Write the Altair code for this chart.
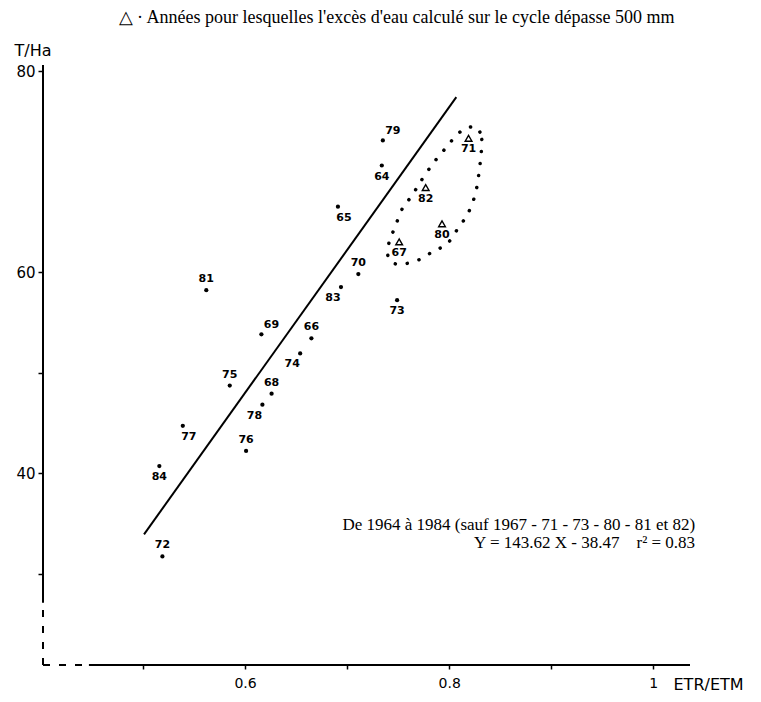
import altair as alt
import pandas as pd

# ---- axis frame (data units) ----
X_MIN, X_MAX = 0.402, 1.036
Y_MIN, Y_MAX = 20.9, 80.6
X_BREAK = 0.447   # x-axis is dashed left of this value
Y_BREAK = 27.1    # y-axis is dashed below this value

# ---- ordinary years (dots) ----
dot_years = ["64", "65", "66", "68", "69", "70", "72", "73", "74", "75",
             "76", "77", "78", "79", "81", "83", "84"]
dot_x = [0.734, 0.691, 0.665, 0.626, 0.616, 0.711, 0.519, 0.749, 0.654, 0.585,
         0.601, 0.539, 0.617, 0.735, 0.562, 0.694, 0.516]
dot_y = [70.6, 66.5, 53.4, 47.9, 53.8, 59.8, 31.7, 57.2, 51.9, 48.7,
         42.2, 44.7, 46.8, 73.1, 58.2, 58.5, 40.7]
dot_pos = ["S", "SE", "N", "N", "NE", "N", "N", "S", "SW", "N",
           "N", "SE", "SW", "NE", "N", "SW", "S"]

# ---- years with water excess > 500 mm (triangles) ----
tri_years = ["67", "71", "80", "82"]
tri_x = [0.751, 0.819, 0.793, 0.777]
tri_y = [63.0, 73.3, 64.8, 68.4]
tri_pos = ["S", "S", "S", "S"]

# ---- regression line (end points) ----
fit_x = [0.501, 0.807]
fit_y = [33.9, 77.4]

# ---- dotted loop around the triangles ----
loop_x = [0.827, 0.832, 0.831, 0.829, 0.826, 0.821, 0.816, 0.809, 0.798, 0.785,
          0.770, 0.755, 0.745, 0.740, 0.741, 0.747, 0.755, 0.763, 0.772, 0.785,
          0.798, 0.808, 0.817]
loop_y = [74.4, 73.2, 71.5, 69.7, 67.9, 66.4, 65.4, 64.4, 62.8, 62.1,
          61.2, 60.8, 60.9, 61.6, 62.9, 64.5, 66.5, 67.5, 69.0, 70.9,
          72.5, 73.7, 74.3]

# ---- texts ----
title_text = "\u25b3 \u00b7 Années pour lesquelles l'excès d'eau calculé sur le cycle dépasse 500 mm"
note_lines = ["De 1964 à 1984 (sauf 1967 - 71 - 73 - 80 - 81 et 82)",
              "Y = 143.62 X - 38.47\u00a0\u00a0\u00a0\u00a0r\u00b2 = 0.83"]
note_x = [1.041, 1.041]
note_y = [34.8, 33.0]

x_ticks = [0.5, 0.6, 0.7, 0.8, 0.9, 1.0]
y_ticks = [30, 40, 50, 60, 80]

# ---------------------------------------------------------------
dots = pd.DataFrame({"x": dot_x, "y": dot_y, "lab": dot_years, "pos": dot_pos})
tris = pd.DataFrame({"x": tri_x, "y": tri_y, "lab": tri_years, "pos": tri_pos})
labels = pd.concat([dots, tris], ignore_index=True)
fit = pd.DataFrame({"x": fit_x, "y": fit_y})
loop = pd.DataFrame({"x": loop_x, "y": loop_y, "o": list(range(len(loop_x)))})
notes = pd.DataFrame({"x": note_x, "y": note_y, "t": note_lines})
solid_axes = pd.DataFrame({"x": [X_BREAK, X_MIN], "x2": [X_MAX, X_MIN],
                           "y": [Y_MIN, Y_BREAK], "y2": [Y_MIN, Y_MAX]})
dashed_axes = pd.DataFrame({"x": [X_MIN, X_MIN], "x2": [X_BREAK, X_MIN],
                            "y": [Y_MIN, Y_MIN], "y2": [Y_MIN, Y_BREAK]})

xscale = alt.Scale(domain=[X_MIN, X_MAX], nice=False, zero=False)
yscale = alt.Scale(domain=[Y_MIN, Y_MAX], nice=False, zero=False)

x_axis = alt.Axis(
    values=x_ticks, domain=False, grid=False, tickSize=4, tickWidth=1.5,
    tickColor="black",
    labelExpr="abs(datum.value-0.6)<0.001 ? '0.6' : abs(datum.value-0.8)<0.001 ? '0.8' : abs(datum.value-1)<0.001 ? '1' : ''",
    labelFont="DejaVu Sans", labelFontSize=14, labelColor="black", labelPadding=7,
    title="ETR/ETM", titleFont="DejaVu Sans", titleFontSize=16,
    titleFontWeight="normal", titleColor="black",
    titleX=630, titleY=19, titleAlign="left", titleBaseline="middle",
)
y_axis = alt.Axis(
    values=y_ticks, domain=False, grid=False, tickSize=5, tickWidth=1.5,
    tickColor="black",
    labelExpr="datum.value==30 || datum.value==50 ? '' : datum.label",
    labelFont="DejaVu Sans", labelFontSize=15, labelColor="black", labelPadding=3,
    title="T/Ha", titleAngle=0, titleFont="DejaVu Sans", titleFontSize=16,
    titleFontWeight="normal", titleColor="black",
    titleX=-29, titleY=-15, titleAlign="left", titleBaseline="middle",
)

X = alt.X("x:Q", scale=xscale, axis=x_axis)
Y = alt.Y("y:Q", scale=yscale, axis=y_axis)

axes_solid = alt.Chart(solid_axes).mark_rule(color="black", strokeWidth=2).encode(
    x=X, x2="x2", y=Y, y2="y2")
axes_dashed = alt.Chart(dashed_axes).mark_rule(
    color="black", strokeWidth=2, strokeDash=[7, 9]).encode(x=X, x2="x2", y=Y, y2="y2")

fit_line = alt.Chart(fit).mark_line(color="black", strokeWidth=2).encode(x=X, y=Y)

loop_line = alt.Chart(loop).mark_line(
    color="black", strokeWidth=3.5, strokeDash=[0.1, 12], strokeCap="round",
    interpolate="cardinal-closed").encode(x=X, y=Y, order="o:Q")

dot_layer = alt.Chart(dots).mark_point(
    shape="circle", filled=True, color="black", size=18, opacity=1).encode(x=X, y=Y)
tri_layer = alt.Chart(tris).mark_point(
    shape="triangle-up", filled=False, color="black", size=45, strokeWidth=1.4,
    opacity=1).encode(x=X, y=Y)

offsets = {"N": (0, -11), "S": (0, 11), "NE": (10, -9), "SE": (6, 11), "SW": (-8, 11)}
label_layers = []
for p, (ddx, ddy) in offsets.items():
    label_layers.append(
        alt.Chart(labels).transform_filter(alt.datum.pos == p).mark_text(
            font="DejaVu Sans", fontSize=11, fontWeight=600, color="black",
            dx=ddx, dy=ddy, baseline="middle", align="center"
        ).encode(x=X, y=Y, text="lab:N")
    )

note_layer = alt.Chart(notes).mark_text(
    font="Liberation Serif", fontSize=17, color="black", align="right",
    baseline="middle", clip=False).encode(x=X, y=Y, text="t:N")

chart = alt.layer(
    axes_solid, axes_dashed, fit_line, loop_line, dot_layer, tri_layer,
    *label_layers, note_layer
).properties(
    width=647, height=600,
    title=alt.TitleParams(title_text, font="Liberation Serif", fontSize=18,
                          fontWeight="normal", color="black", anchor="middle",
                          frame="group", dx=30, offset=15),
    autosize=alt.AutoSizeParams(type="none"),
    padding={"left": 35, "top": 57, "right": 63, "bottom": 29},
).configure(background="white").configure_view(strokeWidth=0)

chart.save("out.html", embed_options={"renderer": "svg", "actions": False})
